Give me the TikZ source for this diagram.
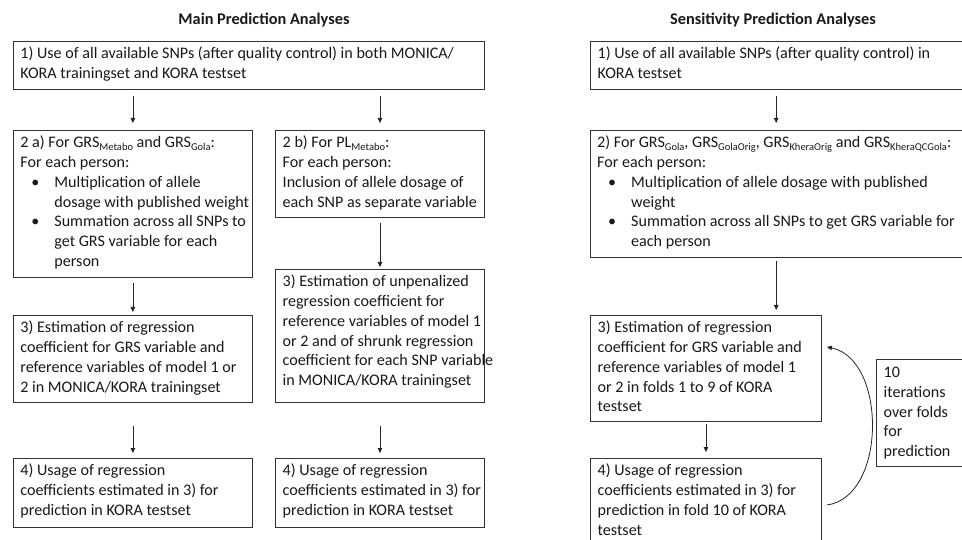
\documentclass[tikz,border=0pt]{standalone}
\usepackage{fontspec}
\setmainfont{Carlito}
\usetikzlibrary{arrows.meta,calc}
\newcommand\bul{\makebox[34pt][l]{\hspace*{11pt}\textbullet}}
\newcommand\cont{\hspace*{34pt}}
\newcommand\sbs[1]{\raisebox{-2.4pt}{\fontsize{10.5}{10.5}\selectfont #1}}
\tikzset{
  box/.style={draw=black!80, line width=0.9pt, anchor=north west, inner sep=0pt},
  txt/.style={anchor=north west, inner sep=0pt, align=left, text=black!90,
              font=\fontsize{16.1}{19.7}\selectfont},
  ttl/.style={inner sep=0pt, text=black!90, font=\bfseries\fontsize{16.3}{19}\selectfont},
  arr/.style={draw=black!85, line width=0.8pt, -{Triangle[length=5pt,width=4.5pt]}},
}
\begin{document}
\begin{tikzpicture}[x=1pt,y=-1pt]
\clip (0,0) rectangle (962,540);
\fill[white] (0,0) rectangle (962,540);

% titles
\node[ttl] (h1) at (264,20) {Main Prediction Analyses};
\node[ttl] (h2) at (773,20) {Sensitivity Prediction Analyses};

% ---------- main column ----------
\node[box, minimum width=471pt, minimum height=48pt] (m1) at (12.7,41) {};
\node[txt] (m1t) at ($(m1.north west)+(7.5,6)$)
  {1) Use of all available SNPs (after quality control) in both MONICA/\\KORA trainingset and KORA testset};

\node[box, minimum width=239.5pt, minimum height=147pt] (m2a) at (12.7,130) {};
\node[txt] (m2at) at ($(m2a.north west)+(7.5,6)$)
  {2 a) For GRS\sbs{Metabo} and GRS\sbs{Gola}:\\
   For each person:\\
   \bul Multiplication of allele\\
   \cont dosage with published weight\\
   \bul Summation across all SNPs to\\
   \cont get GRS variable for each\\
   \cont person};

\node[box, minimum width=209pt, minimum height=87pt] (m2b) at (275,130) {};
\node[txt] (m2bt) at ($(m2b.north west)+(7.5,6)$)
  {2 b) For PL\sbs{Metabo}:\\
   For each person:\\
   Inclusion of allele dosage of\\
   each SNP as separate variable};

\node[box, minimum width=209pt, minimum height=133pt] (m3b) at (275,269) {};
\node[txt] (m3bt) at ($(m3b.north west)+(7.5,6)$)
  {3) Estimation of unpenalized\\
   regression coefficient for\\
   reference variables of model 1\\
   or 2 and of shrunk regression\\
   coefficient for each SNP variable\\
   in MONICA/KORA trainingset};

\node[box, minimum width=239.5pt, minimum height=87pt] (m3a) at (12.7,315) {};
\node[txt] (m3at) at ($(m3a.north west)+(7.5,6)$)
  {3) Estimation of regression\\
   coefficient for GRS variable and\\
   reference variables of model 1 or\\
   2 in MONICA/KORA trainingset};

\node[box, minimum width=239.5pt, minimum height=69pt] (m4a) at (12.7,458) {};
\node[txt] (m4at) at ($(m4a.north west)+(7.5,6)$)
  {4) Usage of regression\\
   coefficients estimated in 3) for\\
   prediction in KORA testset};

\node[box, minimum width=209pt, minimum height=69pt] (m4b) at (275,458) {};
\node[txt] (m4bt) at ($(m4b.north west)+(7.5,6)$)
  {4) Usage of regression\\
   coefficients estimated in 3) for\\
   prediction in KORA testset};

% ---------- sensitivity column ----------
\node[box, minimum width=371.5pt, minimum height=48pt] (s1) at (590,41) {};
\node[txt] (s1t) at ($(s1.north west)+(7.5,6)$)
  {1) Use of all available SNPs (after quality control) in\\KORA testset};

\node[box, minimum width=371.5pt, minimum height=127pt] (s2) at (590,130) {};
\node[txt] (s2t) at ($(s2.north west)+(7,6)$)
  {2) For GRS\sbs{Gola}, GRS\sbs{GolaOrig}, GRS\sbs{KheraOrig} and GRS\sbs{KheraQCGola}:\\
   For each person:\\
   \bul Multiplication of allele dosage with published\\
   \cont weight\\
   \bul Summation across all SNPs to get GRS variable for\\
   \cont each person};

\node[box, minimum width=231pt, minimum height=106pt] (s3) at (590,315) {};
\node[txt] (s3t) at ($(s3.north west)+(7.5,6)$)
  {3) Estimation of regression\\
   coefficient for GRS variable and\\
   reference variables of model 1\\
   or 2 in folds 1 to 9 of KORA\\
   testset};

\node[box, minimum width=231pt, minimum height=90pt] (s4) at (590,458) {};
\node[txt] (s4t) at ($(s4.north west)+(7.5,6)$)
  {4) Usage of regression\\
   coefficients estimated in 3) for\\
   prediction in fold 10 of KORA\\
   testset};

\node[box, minimum width=90pt, minimum height=107pt] (it) at (876,359) {};
\node[txt] (itt) at ($(it.north west)+(7.5,8)$)
  {10\\iterations\\over folds\\for\\prediction};

% ---------- connectors ----------
\draw[arr, shorten <=6pt, shorten >=7pt] (m2a.north |- m1.south) -- (m2a.north);
\draw[arr, shorten <=6pt, shorten >=7pt] (m2b.north |- m1.south) -- (m2b.north);
\draw[arr, shorten <=5pt, shorten >=3pt] (m2a.south) -- (m3a.north);
\draw[arr, shorten <=5pt, shorten >=2pt] (m2b.south) -- (m3b.north);
\draw[arr, shorten <=23pt, shorten >=5pt] (m3a.south) -- (m4a.north);
\draw[arr, shorten <=23pt, shorten >=5pt] (m3b.south) -- (m4b.north);

\draw[arr, shorten <=6pt, shorten >=7pt] (s1.south) -- (s2.north);
\draw[arr, shorten <=3pt, shorten >=5pt] (s2.south) -- (s2.south |- s3.north);
\draw[arr, shorten <=2pt, shorten >=6pt] (s3.south) -- (s4.north);

\coordinate (cb) at ($(s4.north east)+(5,47)$);
\coordinate (ct) at ($(s3.north east)+(5,32)$);
\draw[arr] (cb) .. controls ($(cb)+(60,-8)$) and ($(ct)+(60,12)$) .. (ct);
\end{tikzpicture}
\end{document}
